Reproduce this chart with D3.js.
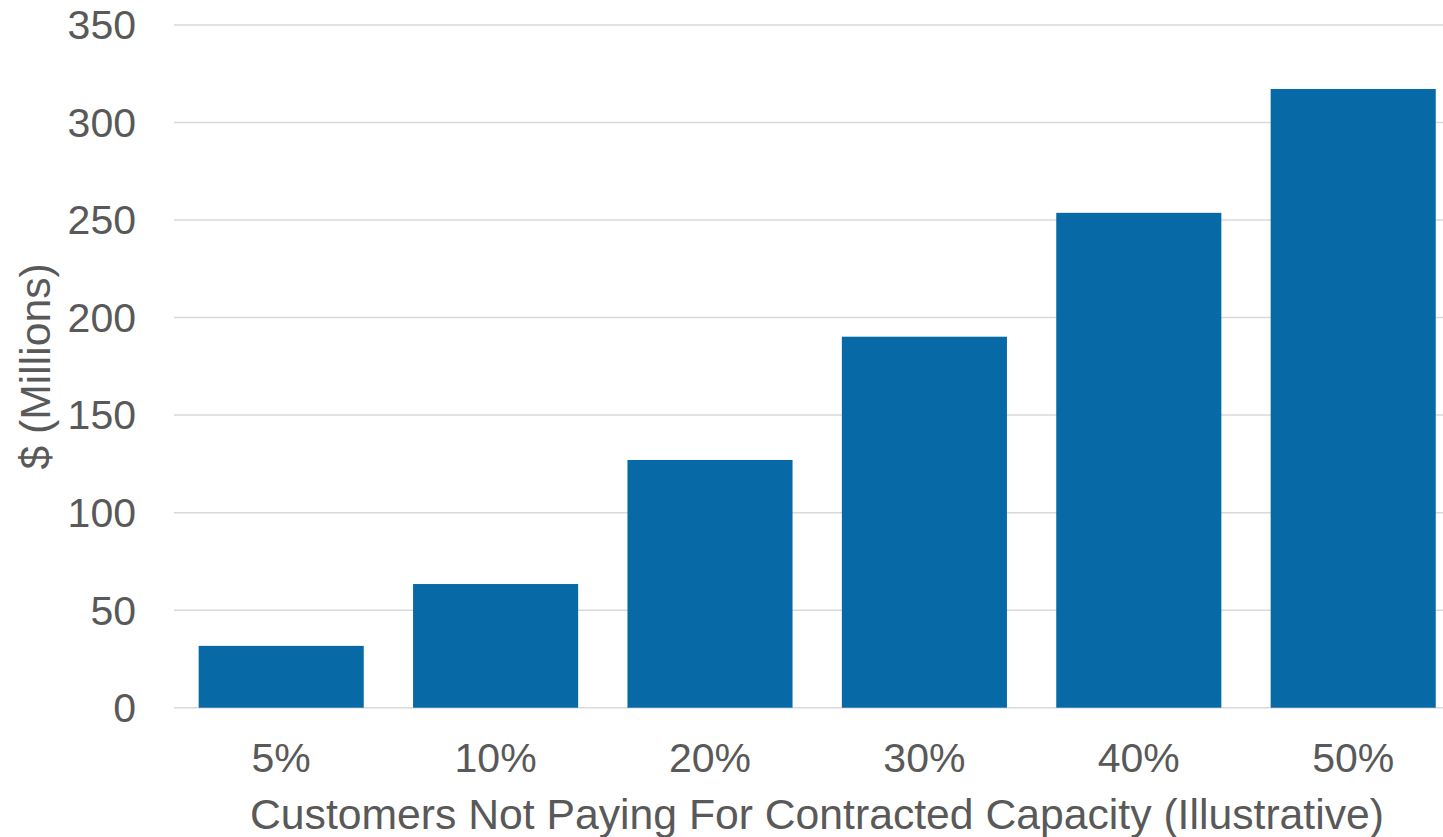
<!DOCTYPE html>
<html>
<head>
<meta charset="utf-8">
<script src="https://cdn.jsdelivr.net/npm/d3@7"></script>
<style>
  html, body { margin: 0; padding: 0; background: #fff; overflow: hidden; }
  svg { display: block; }
  .tick-label, .axis-title { font-family: "Liberation Sans", Arial, sans-serif; fill: #595959; }
  .tick-label { font-size: 41px; }
  .axis-title { font-size: 42.7px; }
</style>
</head>
<body>
<svg id="chart"></svg>
<script>
// Share of customers not paying, and the resulting cost ($ millions)
const categories = ["5%", "10%", "20%", "30%", "40%", "50%"];
const values = [31.7, 63.4, 127, 190.2, 253.7, 317.2];
const yTicks = [0, 50, 100, 150, 200, 250, 300, 350];

const width = 1443, height = 837;
const svg = d3.select("#chart").attr("width", width).attr("height", height);

const x = d3.scaleBand()
  .domain(categories)
  .range([174, 1460.4])
  .paddingInner(0.23)
  .paddingOuter(0.115);

const y = d3.scaleLinear().domain([0, 350]).range([707.7, 25]);

// gridlines
svg.append("g")
  .selectAll("line")
  .data(yTicks)
  .join("line")
  .attr("x1", 174).attr("x2", width)
  .attr("y1", d => y(d)).attr("y2", d => y(d))
  .attr("stroke", "#d9d9d9")
  .attr("stroke-width", 1.5);

// bars
svg.append("g")
  .selectAll("rect")
  .data(values)
  .join("rect")
  .attr("x", (d, i) => x(categories[i]))
  .attr("width", x.bandwidth())
  .attr("y", d => y(d))
  .attr("height", d => y(0) - y(d))
  .attr("fill", "#0769a6");

// y tick labels
svg.append("g")
  .selectAll("text")
  .data(yTicks)
  .join("text")
  .attr("class", "tick-label")
  .attr("x", 136)
  .attr("y", d => y(d))
  .attr("dy", "0.35em")
  .attr("text-anchor", "end")
  .text(d => d);

// x tick labels
svg.append("g")
  .selectAll("text")
  .data(categories)
  .join("text")
  .attr("class", "tick-label")
  .attr("x", d => x(d) + x.bandwidth() / 2)
  .attr("y", 772)
  .attr("text-anchor", "middle")
  .text(d => d);

// axis titles
svg.append("text")
  .attr("class", "axis-title")
  .attr("x", 817)
  .attr("y", 829)
  .attr("text-anchor", "middle")
  .text("Customers Not Paying For Contracted Capacity (Illustrative)");

svg.append("text")
  .attr("class", "axis-title")
  .attr("transform", `translate(50, ${(y(0) + y(350)) / 2}) rotate(-90)`)
  .attr("text-anchor", "middle")
  .text("$ (Millions)");
</script>
</body>
</html>
